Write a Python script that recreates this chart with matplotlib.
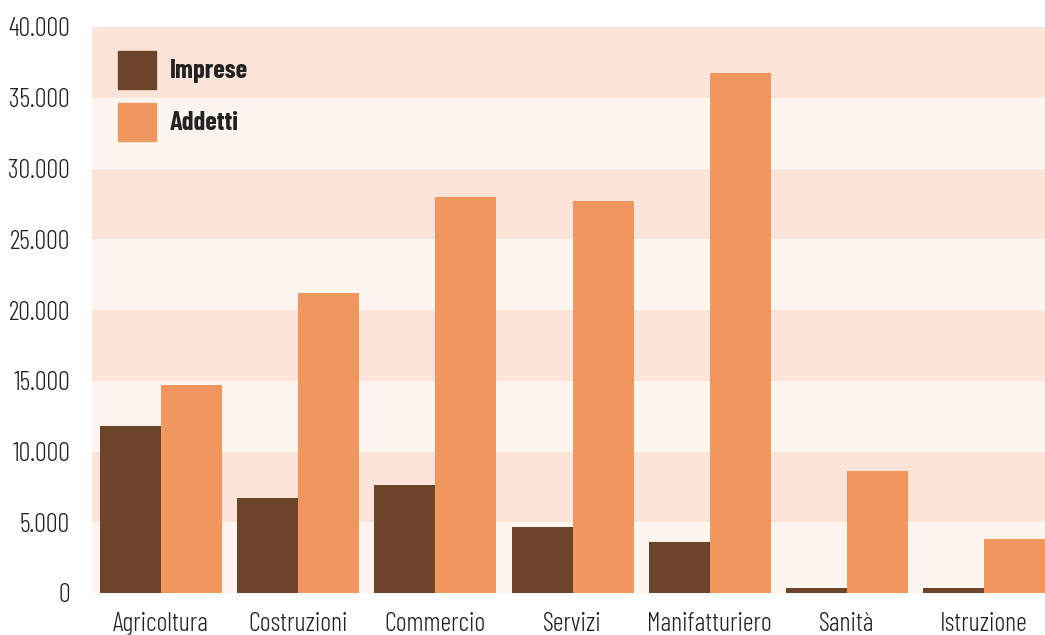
import numpy as np
import matplotlib.pyplot as plt
from matplotlib.patches import Patch
from matplotlib.ticker import FuncFormatter

# Data
settori = ["Agricoltura", "Costruzioni", "Commercio", "Servizi",
           "Manifatturiero", "Sanità", "Istruzione"]
imprese = [11800, 6700, 7600, 4650, 3600, 350, 350]
addetti = [14700, 21200, 28000, 27700, 36750, 8600, 3800]

plt.rcParams['font.family'] = ['Barlow Condensed', 'DejaVu Sans']

c_imp = "#6B4429"
c_add = "#F09760"
band_dark = "#FDE4D8"
band_light = "#FEF5EF"
c_txt = "#222222"

fig = plt.figure(figsize=(10.45, 6.35), dpi=100)
ax = fig.add_axes([92 / 1045, 42 / 635, 953 / 1045, 566 / 635])

# alternating background bands, 5.000 each
for i, lo in enumerate(range(0, 40000, 5000)):
    ax.axhspan(lo, lo + 5000, color=band_dark if i % 2 else band_light,
               lw=0, zorder=0)

x = np.arange(len(settori))
w = 0.445
ax.bar(x - w / 2, imprese, w, color=c_imp, zorder=2)
ax.bar(x + w / 2, addetti, w, color=c_add, zorder=2)

ax.set_xlim(-0.504, len(settori) - 1 + w)
ax.set_ylim(0, 40000)
ax.set_yticks(range(0, 40001, 5000))
ax.yaxis.set_major_formatter(FuncFormatter(lambda v, p: f"{int(v):,}".replace(",", ".")))
ax.set_xticks(x)
ax.set_xticklabels(settori)
ax.tick_params(length=0, labelsize=19, colors=c_txt)
ax.tick_params(axis="y", pad=15.8)
ax.tick_params(axis="x", pad=14)
for lab in ax.get_xticklabels() + ax.get_yticklabels():
    lab.set_fontweight(300)
for s in ax.spines.values():
    s.set_visible(False)

handles = [Patch(color=c_imp, label="Imprese"), Patch(color=c_add, label="Addetti")]
leg = ax.legend(handles=handles, loc="upper left", bbox_to_anchor=(0.0162, 0.9763),
                frameon=False, prop={"family": ["Barlow Condensed", "DejaVu Sans"],
                                     "size": 19, "weight": "bold"},
                handlelength=1.44, handleheight=1.837, labelspacing=0.53,
                handletextpad=0.53, borderpad=0.4, borderaxespad=0)
for t in leg.get_texts():
    t.set_color(c_txt)

fig.savefig("out.png", dpi=100)
